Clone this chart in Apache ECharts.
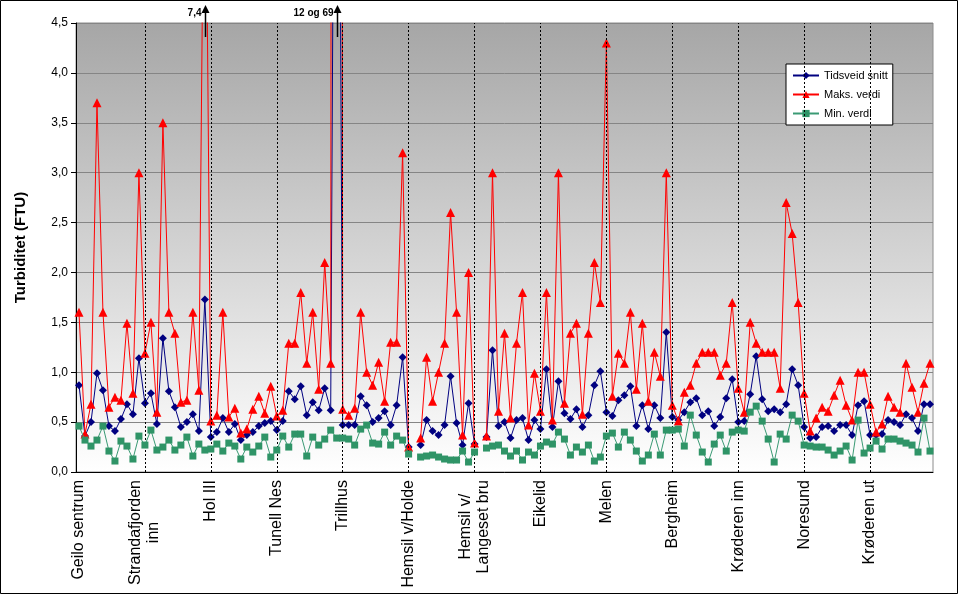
<!DOCTYPE html>
<html>
<head>
<meta charset="utf-8">
<script src="https://cdn.jsdelivr.net/npm/echarts@6/dist/echarts.min.js"></script>
<style>
html,body{margin:0;padding:0;background:#fff;}
#chart{width:959px;height:595px;}
</style>
</head>
<body>
<div id="chart"></div>
<script>
// ---- data ----
var stations = ['Geilo sentrum','Strandafjorden\ninn','Hol III','Tunell Nes','Trillhus','Hemsil v/Holde','Hemsil v/\nLangeset bru','Eikelid','Melen','Bergheim','Krøderen inn','Noresund','Krøderen ut'];
var samplesPerStation = 11;
var seriesNames = ['Tidsveid snitt','Maks. verdi','Min. verdi'];
var yTicks = [0,0.5,1,1.5,2,2.5,3,3.5,4,4.5];
var overflowLabels = ['7,4','12 og 69'];

var snitt = [0.87,0.36,0.50,0.99,0.82,0.46,0.41,0.53,0.68,0.58,
 1.14,0.69,0.79,0.48,1.34,0.81,0.65,0.45,0.50,0.58,
 0.41,1.73,0.35,0.40,0.54,0.40,0.48,0.32,0.37,0.40,
 0.46,0.49,0.51,0.42,0.51,0.81,0.73,0.86,0.57,0.70,
 0.62,0.84,0.62,12,0.47,0.47,0.47,0.76,0.67,0.50,
 0.54,0.61,0.47,0.67,1.15,0.25,null,0.27,0.52,0.41,
 0.37,0.47,0.96,0.49,0.27,0.69,0.28,null,0.35,1.22,
 0.46,0.50,0.34,0.52,0.54,0.32,0.52,0.43,1.03,0.45,
 0.91,0.59,0.53,0.63,0.45,0.57,0.87,1.01,0.60,
 0.56,0.72,0.77,0.86,0.46,0.67,0.43,0.67,0.54,1.40,0.55,0.52,0.60,0.70,0.74,0.57,0.61,0.46,0.55,0.74,0.93,0.50,0.51,0.78,1.16,0.73,0.61,0.63,0.60,0.68,1.03,0.87,0.45,0.34,0.35,0.45,0.46,0.41,0.47,0.47,0.37,0.67,0.71,0.37,0.37,0.38,0.52,0.50,0.47,0.58,0.54,0.41,0.68,0.68];

var maks = [1.60,0.38,0.68,3.70,1.60,0.65,0.75,0.72,1.49,0.79,
 3.00,1.19,1.50,0.60,3.50,1.60,1.39,0.70,0.72,1.60,
 0.82,7.4,0.51,0.57,1.60,0.55,0.64,0.39,0.43,0.63,
 0.76,0.59,0.86,0.56,0.62,1.29,1.29,1.80,1.09,1.60,
 0.83,2.10,1.09,69,0.63,0.57,0.64,1.60,1.00,0.87,
 1.10,0.71,1.30,1.30,3.20,0.25,null,0.34,1.15,0.71,
 1.00,1.29,2.60,1.60,0.37,2.00,0.29,null,0.36,3.00,
 0.61,1.39,0.54,1.29,1.80,0.47,0.99,0.61,1.80,0.52,
 3.00,0.69,1.39,1.49,0.58,1.39,2.10,1.70,4.30,
 0.76,1.19,1.09,1.60,0.83,1.49,0.71,1.20,0.96,3.00,0.67,0.51,0.80,0.87,1.09,1.20,1.20,1.20,0.97,1.09,1.70,0.84,0.60,1.50,1.29,1.20,1.20,1.20,0.84,2.70,2.39,1.70,0.79,0.41,0.54,0.65,0.61,0.77,0.92,0.67,0.52,1.00,1.00,0.68,0.40,0.48,0.76,0.65,0.60,1.09,0.85,0.60,0.89,1.09];

var minv = [0.46,0.32,0.26,0.32,0.46,0.21,0.11,0.31,0.26,0.13,
 0.36,0.27,0.42,0.22,0.25,0.32,0.22,0.27,0.35,0.16,
 0.28,0.22,0.23,0.28,0.21,0.29,0.26,0.13,0.25,0.20,
 0.26,0.35,0.15,0.22,0.36,0.25,0.38,0.38,0.16,0.35,
 0.27,0.33,0.42,0.34,0.34,0.33,0.27,0.43,0.47,0.29,
 0.28,0.40,0.27,0.36,0.32,0.18,null,0.15,0.16,0.17,
 0.15,0.13,0.12,0.12,0.21,0.10,0.20,null,0.24,0.26,
 0.27,0.21,0.16,0.21,0.12,0.20,0.17,0.26,0.30,0.28,
 0.40,0.33,0.17,0.25,0.20,0.27,0.11,0.15,0.36,
 0.39,0.25,0.40,0.32,0.21,0.11,0.17,0.38,0.17,0.42,0.42,0.43,0.26,0.57,0.37,0.20,0.10,0.28,0.37,0.21,0.40,0.42,0.41,0.60,0.66,0.51,0.33,0.10,0.38,0.33,0.57,0.51,0.27,0.26,0.25,0.25,0.22,0.17,0.21,0.26,0.12,0.52,0.19,0.24,0.31,0.23,0.33,0.33,0.31,0.29,0.27,0.20,0.54,0.21];

// ---- build categories ----
var categories = [];
stations.forEach(function (s, si) {
  for (var k = 0; k < samplesPerStation; k++) categories.push(si + '|' + k);
});
var separators = [];
for (var si = 1; si < stations.length; si++) separators.push({ xAxis: si * samplesPerStation });

var FONT = '"Liberation Sans", Arial, sans-serif';
var yMax = yTicks[yTicks.length - 1];

var chart = echarts.init(document.getElementById('chart'), null, { renderer: 'canvas' });

var option = {
  animation: false,
  backgroundColor: '#ffffff',
  textStyle: { fontFamily: FONT },
  grid: {
    left: 76, right: 26, top: 23, bottom: 123,
    show: true,
    borderColor: '#8c8c8c', borderWidth: 1,
    backgroundColor: {
      type: 'linear', x: 0, y: 0, x2: 0, y2: 1,
      colorStops: [{ offset: 0, color: '#a6a6a6' }, { offset: 1, color: '#ffffff' }]
    }
  },
  legend: {
    orient: 'vertical',
    left: 786, top: 64,
    padding: [6, 5, 6, 6],
    itemGap: 8,
    itemWidth: 26, itemHeight: 9,
    backgroundColor: '#ffffff',
    borderColor: '#000000', borderWidth: 1,
    textStyle: { fontFamily: FONT, fontSize: 11, color: '#000' },
    data: seriesNames
  },
  xAxis: {
    type: 'category',
    data: categories,
    boundaryGap: true,
    axisLine: { lineStyle: { color: '#000', width: 1 } },
    axisTick: { interval: samplesPerStation - 1, alignWithLabel: true, length: 5, lineStyle: { color: '#000' } },
    axisLabel: {
      interval: samplesPerStation - 1,
      rotate: 90,
      margin: 8,
      fontFamily: FONT,
      fontSize: 16,
      color: '#000',
      formatter: function (val) {
        var parts = val.split('|');
        if (parts[1] !== '0') return '';
        return stations[+parts[0]].split('\n').map(function (l) { return '{c|' + l + '}'; }).join('\n');
      },
      rich: { c: { align: 'center', fontSize: 16, lineHeight: 18, fontFamily: FONT, color: '#000' } }
    },
    splitLine: { show: false }
  },
  yAxis: {
    type: 'value',
    min: 0, max: yMax, interval: 0.5,
    name: 'Turbiditet (FTU)',
    nameLocation: 'middle',
    nameGap: 48,
    nameTextStyle: { fontFamily: FONT, fontSize: 15, fontWeight: 'bold', color: '#000' },
    axisLine: { show: true, lineStyle: { color: '#000', width: 1 } },
    axisTick: { show: true, length: 5, lineStyle: { color: '#000' } },
    axisLabel: {
      fontFamily: FONT, fontSize: 12, color: '#000', margin: 8,
      formatter: function (v) { return v.toFixed(1).replace('.', ','); }
    },
    splitLine: { show: true, lineStyle: { color: '#858585', width: 1 } }
  },
  series: [
    {
      name: seriesNames[0], type: 'line', data: snitt,
      symbol: 'diamond', symbolSize: 8, showAllSymbol: true,
      lineStyle: { color: '#000080', width: 1 },
      itemStyle: { color: '#000080' },
      clip: true, z: 3,
      markLine: {
        silent: true, symbol: ['none', 'none'], label: { show: false },
        lineStyle: { color: '#000', type: [2, 2], width: 1 },
        emphasis: { disabled: true },
        data: separators
      }
    },
    {
      name: seriesNames[1], type: 'line', data: maks,
      symbol: 'triangle', symbolSize: 9, showAllSymbol: true,
      lineStyle: { color: '#ff0000', width: 1 },
      itemStyle: { color: '#ff0000' },
      clip: true, z: 4
    },
    {
      name: seriesNames[2], type: 'line', data: minv,
      symbol: 'rect', symbolSize: 7, showAllSymbol: true,
      lineStyle: { color: '#3a9a74', width: 1 },
      itemStyle: { color: '#2f9467' },
      clip: true, z: 5
    }
  ]
};
chart.setOption(option);

// overflow annotations (values beyond the axis maximum)
var overIdx = [];
maks.forEach(function (v, i) { if (v != null && v > yMax) overIdx.push(i); });
var gr = [{
  type: 'rect', shape: { x: 0.5, y: 0.5, width: 957, height: 593 },
  style: { fill: 'none', stroke: '#000', lineWidth: 1 }, silent: true, z: 100
}];
overIdx.forEach(function (i, n) {
  var px = Math.round(chart.convertToPixel({ xAxisIndex: 0 }, i)) + 0.5;
  gr.push({ type: 'line', shape: { x1: px, y1: 37, x2: px, y2: 12 }, style: { stroke: '#000', lineWidth: 1.5 }, z: 100 });
  gr.push({ type: 'polygon', shape: { points: [[px - 4, 13], [px + 4, 13], [px, 5]] }, style: { fill: '#000' }, z: 100 });
  gr.push({ type: 'text', x: px - 4, y: 13, style: { text: overflowLabels[n] || '', fontFamily: FONT, fontSize: 10, fontWeight: 'bold', fill: '#000', align: 'right', verticalAlign: 'middle' }, z: 100 });
});
chart.setOption({ graphic: gr });
</script>
</body>
</html>
